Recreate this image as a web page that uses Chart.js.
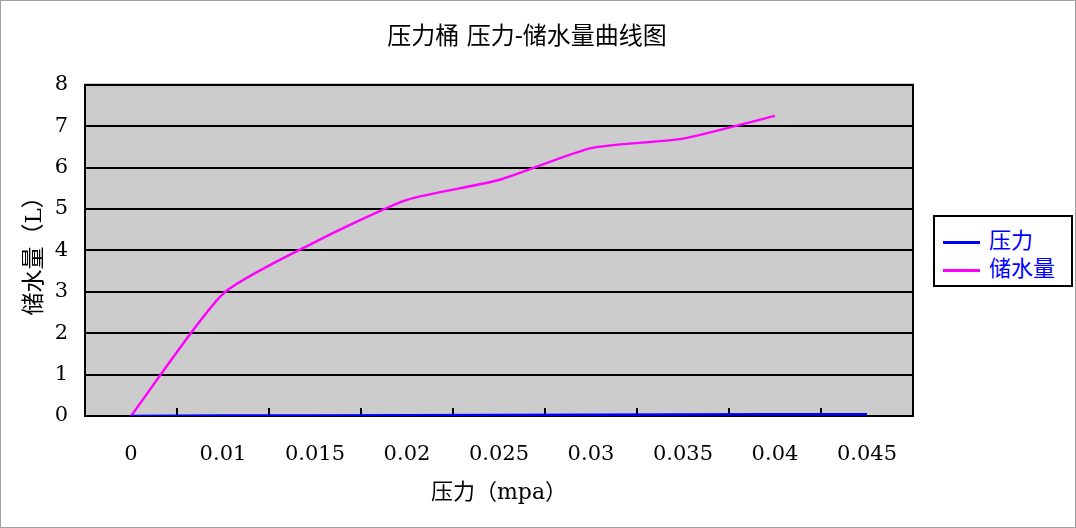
<!DOCTYPE html>
<html>
<head>
<meta charset="utf-8">
<title>压力桶 压力-储水量曲线图</title>
<script src="https://cdn.jsdelivr.net/npm/chart.js@4.4.1/dist/chart.umd.min.js"></script>
<style>
    html, body { margin: 0; padding: 0; background: #fff; }
    #wrap { position: relative; width: 1076px; height: 528px; }
    #frame { position: absolute; left: 0; top: 0; width: 1074px; height: 526px; border: 1px solid #a0a0a0; pointer-events: none; }
    #legend {
        position: absolute; left: 933px; top: 215px; width: 136px; height: 68px;
        border: 2px solid #000; background: #fff;
        font-family: "DejaVu Serif", "Noto Sans CJK SC"; font-size: 22px; color: #0000ff;
    }
    #legend .item { position: absolute; left: 8px; height: 28px; line-height: 28px; white-space: nowrap; }
    #legend .swatch { display: inline-block; width: 37px; height: 3px; vertical-align: middle; margin-right: 9px; }
</style>
</head>
<body>
<div id="wrap">
    <canvas id="chart" width="1076" height="528"></canvas>
    <div id="legend"></div>
    <div id="frame"></div>
</div>
<script>
// dados
const categorias = ['0', '0.01', '0.015', '0.02', '0.025', '0.03', '0.035', '0.04', '0.045'];
const pressao = [0, 0.01, 0.015, 0.02, 0.025, 0.03, 0.035, 0.04, 0.045];
const armazenamento = [0, 2.95, 4.2, 5.22, 5.7, 6.47, 6.7, 7.25, null];
const yTicks = [0, 1, 2, 3, 4, 5, 6, 7, 8];

const FONTE = '"DejaVu Serif", "Noto Sans CJK SC"';

const fundoPlugin = {
    id: 'fundo',
    afterLayout(chart) {
        // centraliza o título como no original
        if (chart.titleBlock) {
            chart.titleBlock.left = 0;
            chart.titleBlock.right = chart.width - 22;
        }
    },
    beforeDraw(chart) {
        const { ctx, chartArea: a } = chart;
        ctx.save();
        ctx.fillStyle = '#cccccc';
        ctx.fillRect(a.left, a.top, a.right - a.left, a.bottom - a.top);
        ctx.restore();
    },
    beforeDatasetsDraw(chart) {
        const { ctx, chartArea: a } = chart;
        const x = chart.scales.x;
        ctx.save();
        ctx.strokeStyle = '#000';
        ctx.lineWidth = 2;
        ctx.strokeRect(a.left, a.top, a.right - a.left, a.bottom - a.top);
        // marcas entre categorias
        ctx.beginPath();
        for (let i = 0; i < categorias.length - 1; i++) {
            const px = Math.round((x.getPixelForValue(i) + x.getPixelForValue(i + 1)) / 2);
            ctx.moveTo(px, a.bottom);
            ctx.lineTo(px, a.bottom - 8);
        }
        ctx.stroke();
        ctx.restore();
    }
};

const chart = new Chart(document.getElementById('chart'), {
    type: 'line',
    data: {
        labels: categorias,
        datasets: [
            {
                label: '压力',
                data: pressao,
                borderColor: '#0000ff',
                borderWidth: 2.5,
                pointRadius: 0,
                tension: 0
            },
            {
                label: '储水量',
                data: armazenamento,
                borderColor: '#ff00ff',
                borderWidth: 2.5,
                pointRadius: 0,
                tension: 0.2,
                spanGaps: false
            }
        ]
    },
    options: {
        responsive: false,
        animation: false,
        layout: { padding: { left: 0, right: 163, top: 0, bottom: 0 } },
        plugins: {
            legend: { display: false },
            tooltip: { enabled: false },
            title: {
                display: true,
                text: '压力桶 压力-储水量曲线图',
                color: '#000',
                font: { family: FONTE, size: 24, weight: 'normal' },
                padding: { top: 23, bottom: 33 }
            }
        },
        scales: {
            x: {
                type: 'category',
                offset: true,
                grid: { display: false, drawTicks: false },
                border: { display: false },
                ticks: {
                    color: '#000',
                    padding: 26,
                    maxRotation: 0,
                    autoSkip: false,
                    font: { family: FONTE, size: 21 }
                },
                title: {
                    display: true,
                    text: '压力（mpa）',
                    color: '#000',
                    font: { family: FONTE, size: 22 },
                    padding: { top: 0, bottom: 22 }
                },
                afterFit(scale) { scale.height = 112; }
            },
            y: {
                min: 0,
                max: 8,
                afterBuildTicks(scale) { scale.ticks = yTicks.map(v => ({ value: v })); },
                grid: { color: '#000', lineWidth: 2, drawTicks: false },
                border: { display: false },
                ticks: {
                    color: '#000',
                    padding: 17,
                    font: { family: FONTE, size: 21 }
                },
                title: {
                    display: true,
                    text: '储水量（L）',
                    color: '#000',
                    font: { family: FONTE, size: 23 },
                    padding: { top: 21, bottom: 0 }
                },
                afterFit(scale) { scale.width = 85; }
            }
        }
    },
    plugins: [fundoPlugin]
});

// legenda
const legenda = document.getElementById('legend');
chart.data.datasets.forEach((ds, i) => {
    const item = document.createElement('div');
    item.className = 'item';
    item.style.top = (10 + i * 28) + 'px';
    item.innerHTML = `<span class="swatch" style="background:${ds.borderColor}"></span>${ds.label}`;
    legenda.appendChild(item);
});
</script>
</body>
</html>
